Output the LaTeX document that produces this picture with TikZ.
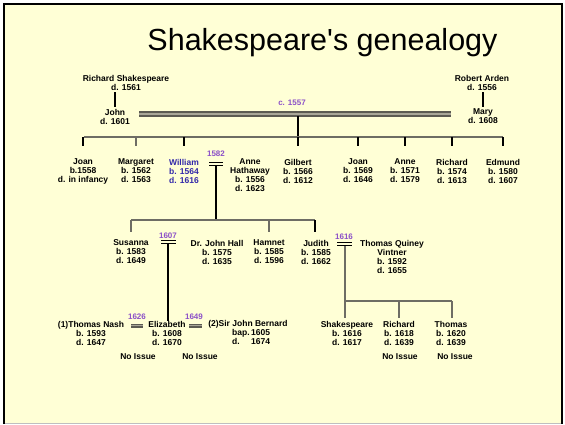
\documentclass[tikz,border=0pt]{standalone}
\usepackage{fontspec}
\setmainfont{Liberation Sans}
\definecolor{bg}{RGB}{255,255,214}
\definecolor{lavender}{RGB}{140,80,200}
\definecolor{wblue}{RGB}{50,40,170}
\definecolor{lgray}{RGB}{110,109,100}
\definecolor{bardark}{RGB}{92,91,82}
\definecolor{barlight}{RGB}{169,167,152}
\begin{document}
\begin{tikzpicture}[x=1pt,y=-1pt,
 person/.style={font=\fontsize{8.5}{9}\selectfont\bfseries, align=center, inner sep=0pt},
 yearlbl/.style={font=\fontsize{8}{9}\selectfont\bfseries, text=lavender, inner sep=0pt},
 drop/.style={line width=1.8pt, draw=black},
 gline/.style={line width=1.8pt, draw=lgray},
 mainbar/.style={draw=bardark, double=barlight, line width=2pt, double distance=2pt},
 bbar/.style={draw=black, double=bg, line width=1.3pt, double distance=1.4pt},
 gbar/.style={draw=bardark, double=barlight, line width=1.3pt, double distance=1.4pt},
]
\useasboundingbox (0,0) rectangle (565,424);
\fill[white] (0,0) rectangle (565,424);
\fill[bg] (4,4) rectangle (561,423);
\draw[line width=2.5pt] (4.2,424) -- (4.2,4.2) -- (561.8,4.2) -- (561.8,424);
\draw[line width=1pt, draw=black!25] (5,423) -- (561,423);

\node[font=\fontsize{30.5}{32}\selectfont, anchor=base] (title) at (322.5,50) {Shakespeare\textquotesingle s genealogy};

% generation 1
\node[person] (richard) at (126,82.5) {Richard Shakespeare\\d. 1561};
\node[person] (robert) at (482,82.5) {Robert Arden\\d. 1556};
\node[person] (john) at (115,116.5) {John\\d. 1601};
\node[person] (mary) at (483,116.5) {Mary\\d. 1608};
\draw[drop] ([yshift=-2pt]richard.south -| john.north) -- ([yshift=2pt]john.north);
\draw[drop] ([yshift=-2pt]robert.south -| mary.north) -- ([yshift=2pt]mary.north);

\coordinate (barL) at (139,113.5);
\coordinate (barR) at (451,113.5);
\coordinate (barM) at (298,116);
\coordinate (sibM) at (298,137);
\coordinate (sibL) at (84,137);
\coordinate (sibR) at (503,137);
\draw[mainbar] (barL) -- (barR);
\node[yearlbl] (c1557) at (292,103) {c. 1557};
\draw[drop] (barM) -- (sibM);
\draw[gline] (sibL) -- (sibR);

% generation 2
\node[person] (joan1) at (83,171) {Joan\\b.1558\\d. in infancy};
\node[person] (margaret) at (136,171) {Margaret\\b. 1562\\d. 1563};
\node[person, text=wblue] (william) at (184,171) {William\\b. 1564\\d. 1616};
\node[person] (annehath) at (250,175.5) {Anne\\Hathaway\\b. 1556\\d. 1623};
\node[person] (gilbert) at (298,171) {Gilbert\\b. 1566\\d. 1612};
\node[person] (joan2) at (358,171) {Joan\\b. 1569\\d. 1646};
\node[person] (anne2) at (405,171) {Anne\\b. 1571\\d. 1579};
\node[person] (richard2) at (452,171) {Richard\\b. 1574\\d. 1613};
\node[person] (edmund) at (503,171) {Edmund\\b. 1580\\d. 1607};

\draw[drop] (joan1.north |- sibL) -- ++(0,9);
\draw[gline] (margaret.north |- sibL) -- ++(0,9);
\draw[drop] (william.north |- sibL) -- ++(0,9);
\draw[drop] (gilbert.north |- sibL) -- ++(0,9);
\draw[drop] (joan2.north |- sibL) -- ++(0,9);
\draw[drop] (anne2.north |- sibL) -- ++(0,9);
\draw[drop] (richard2.north |- sibL) -- ++(0,9);
\draw[drop] (edmund.north |- sibL) -- ++(0,9);

% marriage 1582
\node[yearlbl] (y1582) at (216,154) {1582};
\coordinate (m2L) at (209,164);
\coordinate (m2R) at (223,164);
\coordinate (m2B) at (216,166);
\coordinate (gen3M) at (216,220);
\draw[bbar] (m2L) -- (m2R);
\draw[drop] (m2B) -- (gen3M);

% generation 3
\node[person] (susanna) at (131,252) {Susanna\\b. 1583\\d. 1649};
\node[person] (hall) at (217,252) {Dr. John Hall\\b. 1575\\d. 1635};
\node[person] (hamnet) at (269,252) {Hamnet\\b. 1585\\d. 1596};
\node[person] (judith) at (316,252) {Judith\\b. 1585\\d. 1662};
\node[person] (quiney) at (392,256.5) {Thomas Quiney\\Vintner\\b. 1592\\d. 1655};
\coordinate (gen3L) at (131,220);
\coordinate (gen3R) at (315,220);
\draw[gline] (gen3L) -- (gen3R);
\draw[gline] (gen3L) -- ++(0,12);
\draw[gline] (hamnet.north |- gen3L) -- ++(0,12);
\draw[drop] (gen3R) -- ++(0,12);

% marriage 1607
\node[yearlbl] (y1607) at (168,236) {1607};
\coordinate (m3L) at (161,242);
\coordinate (m3R) at (176,242);
\coordinate (m3B) at (168,244);
\draw[bbar] (m3L) -- (m3R);

% marriage 1616
\node[yearlbl] (y1616) at (344,237) {1616};
\coordinate (m4L) at (337,244);
\coordinate (m4R) at (352,244);
\coordinate (m4B) at (345,246);
\coordinate (gen4L) at (345,301);
\coordinate (gen4R) at (452,301);
\draw[bbar] (m4L) -- (m4R);
\draw[gline] (m4B) -- (gen4L);
\draw[gline] (gen4L) -- (gen4R);

% generation 4
\node[person] (shakesq) at (347,333) {Shakespeare\\b. 1616\\d. 1617};
\node[person] (richard3) at (399,333) {Richard\\b. 1618\\d. 1639};
\node[person] (thomas3) at (451,333) {Thomas\\b. 1620\\d. 1639};
\node[person] (noissue3) at (400,357) {No Issue};
\node[person] (noissue4) at (455,357) {No Issue};
\draw[gline] (gen4L) -- ++(0,17);
\draw[gline] (richard3.north |- gen4L) -- ++(0,17);
\draw[gline] (gen4R) -- ++(0,17);

% Elizabeth's marriages
\node[person] (nash) at (91,333) {(1)Thomas Nash\\b. 1593\\d. 1647};
\node[person] (elizabeth) at (167,333) {Elizabeth\\b. 1608\\d. 1670};
\node[person] (bernard) at (248,324) {(2)Sir John Bernard};
\node[person, align=left, anchor=north west] (bernardd) at (232,329) {\makebox[19pt][l]{bap.}1605\\\makebox[19pt][l]{d.}1674};
\draw[drop] (m3B) -- (elizabeth.north -| m3B);

\node[yearlbl] (y1626) at (137,317) {1626};
\node[yearlbl] (y1649) at (194,317) {1649};
\coordinate (m5L) at (131,325.5);
\coordinate (m5R) at (143,325.5);
\coordinate (m6L) at (189,325.5);
\coordinate (m6R) at (202,325.5);
\draw[gbar] (m5L) -- (m5R);
\draw[gbar] (m6L) -- (m6R);
\node[person] (noissue1) at (138,357) {No Issue};
\node[person] (noissue2) at (200,357) {No Issue};
\end{tikzpicture}
\end{document}
